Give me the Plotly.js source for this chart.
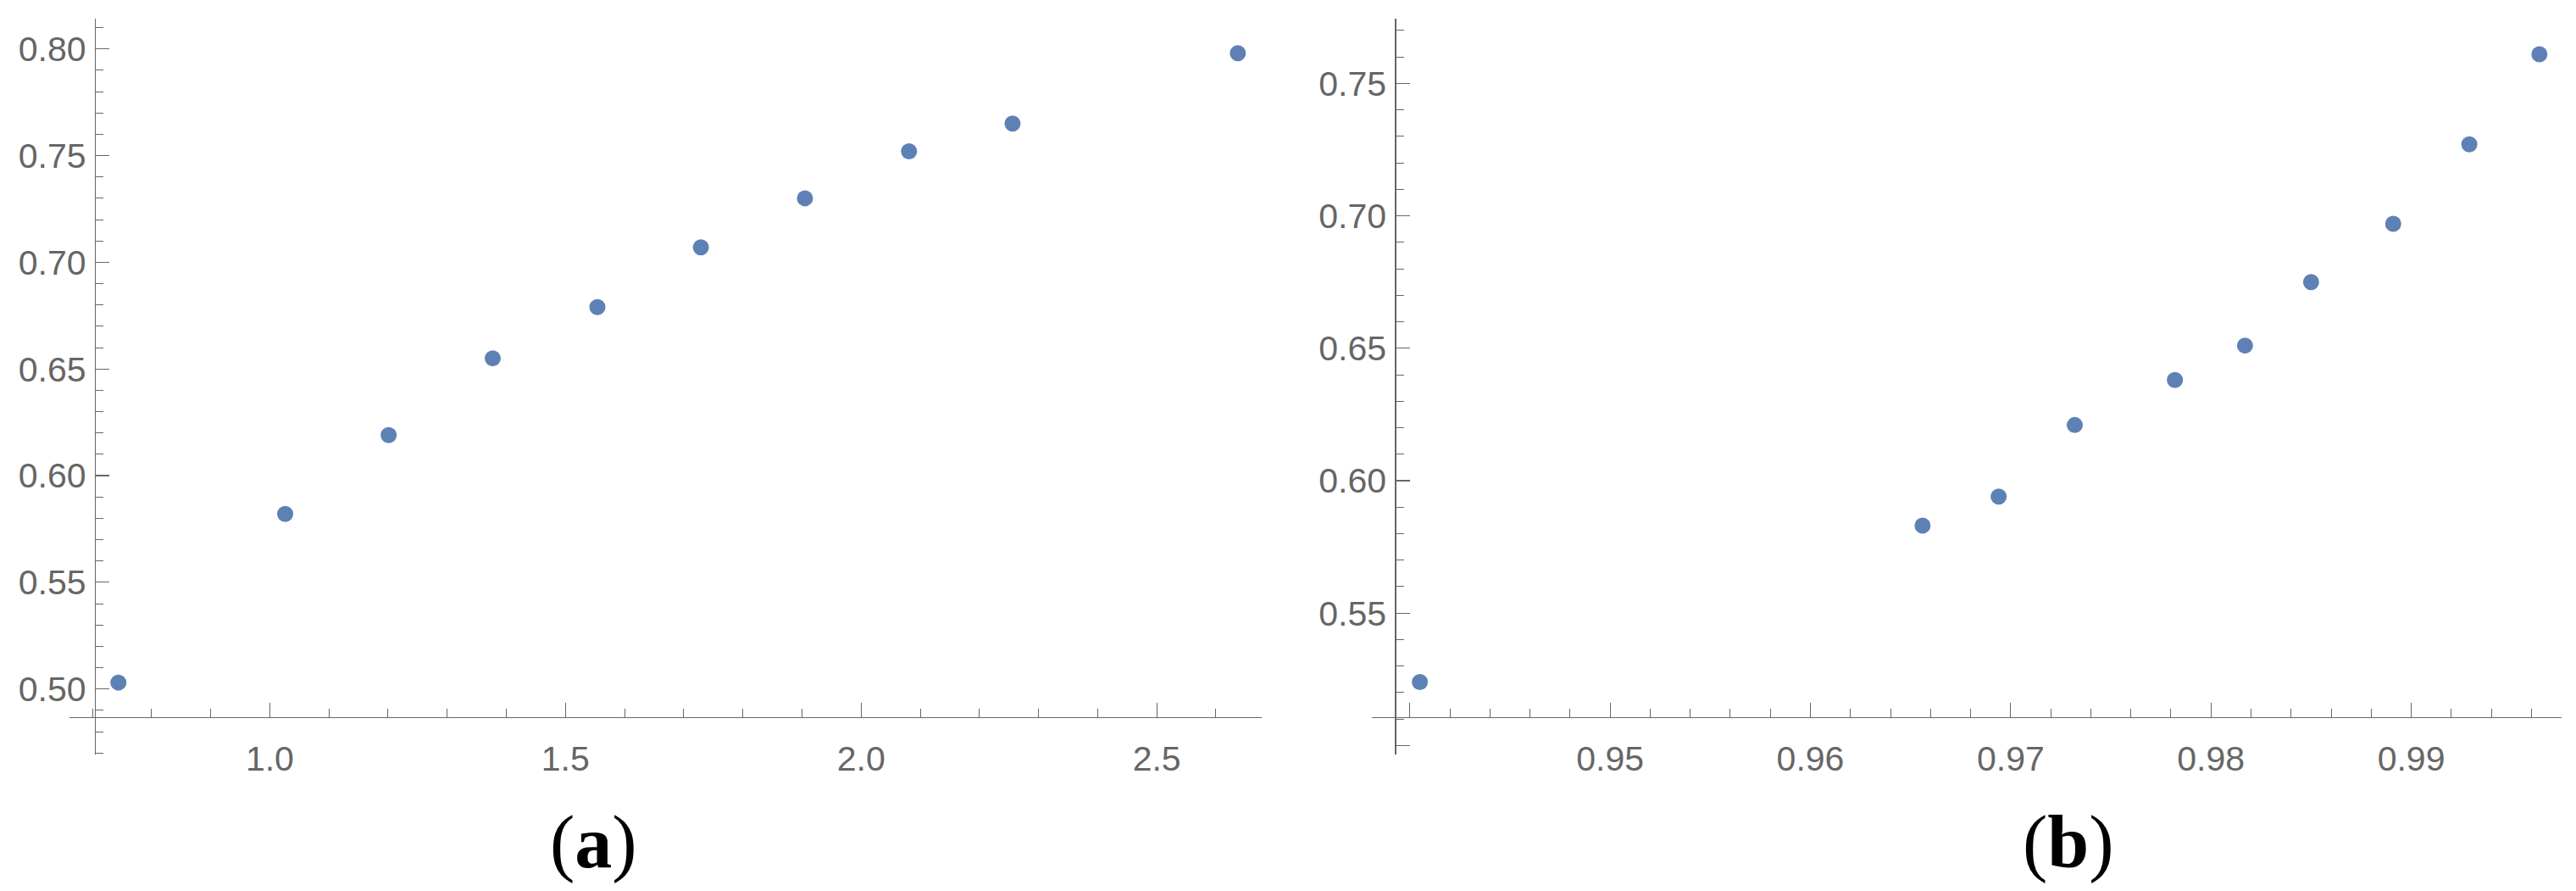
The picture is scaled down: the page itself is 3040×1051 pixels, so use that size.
<!DOCTYPE html>
<html>
<head>
<meta charset="utf-8">
<script src="https://cdn.plot.ly/plotly-3.0.1.min.js"></script>
<style>
  html, body { margin: 0; padding: 0; background: #fff; }
  #plot { width: 3040px; height: 1051px; }
</style>
</head>
<body>
<div id="plot"></div>
<script>
// Panel (a) data
const xA = [0.744, 1.026, 1.201, 1.377, 1.554, 1.729, 1.905, 2.081, 2.256, 2.637];
const yA = [0.503, 0.582, 0.619, 0.655, 0.679, 0.707, 0.730, 0.752, 0.765, 0.798];

// Panel (b) data
const xB = [0.9405, 0.9656, 0.9694, 0.9732, 0.9782, 0.9817, 0.9850, 0.9891, 0.9929, 0.9964];
const yB = [0.524, 0.583, 0.594, 0.621, 0.638, 0.651, 0.675, 0.697, 0.727, 0.761];

// Tick labels
const xTicksA = [1.0, 1.5, 2.0, 2.5];
const xLabelsA = ["1.0", "1.5", "2.0", "2.5"];
const yTicksA = [0.50, 0.55, 0.60, 0.65, 0.70, 0.75, 0.80];
const yLabelsA = ["0.50", "0.55", "0.60", "0.65", "0.70", "0.75", "0.80"];
const xTicksB = [0.94, 0.95, 0.96, 0.97, 0.98, 0.99];
const xLabelsB = ["", "0.95", "0.96", "0.97", "0.98", "0.99"];
const yTicksB = [0.50, 0.55, 0.60, 0.65, 0.70, 0.75];
const yLabelsB = ["", "0.55", "0.60", "0.65", "0.70", "0.75"];

const panelLabels = ["a", "b"];

// Plot ranges and where the axes cross (Mathematica style)
const xRangeA = [0.661, 2.677], yRangeA = [0.4694, 0.8144], originA = [0.704, 0.4868];
const xRangeB = [0.9381, 0.9975], yRangeB = [0.4967, 0.7746], originB = [0.93926, 0.5107];

const W = 3040, H = 1051;
const xDomA = [81.8 / W, 1488.7 / W];
const xDomB = [1618.9 / W, 3022.8 / W];
const yDom = [1 - 889.7 / H, 1 - 21.5 / H];

const grey = "#666666";
const dotColor = "#5E81B5";
const tickFont = { family: "Liberation Sans, Arial, sans-serif", size: 41, color: grey };
const captionFont = { family: "Liberation Serif, Times New Roman, serif", size: 88, color: "#000" };

// paper position of a value inside a domain
const frac = (v, range, dom) => dom[0] + (v - range[0]) / (range[1] - range[0]) * (dom[1] - dom[0]);

function xAxis(range, dom, vals, text, minorStep, yRange, yOrigin) {
    return {
        domain: dom, range: range, anchor: "free",
        position: frac(yOrigin, yRange, yDom),
        tickmode: "array", tickvals: vals, ticktext: text,
        ticks: "inside", ticklen: 17, tickwidth: 1.2, tickcolor: grey,
        minor: { tickmode: "linear", tick0: 0, dtick: minorStep, ticks: "inside", ticklen: 10, tickwidth: 1, tickcolor: grey },
        showline: true, linecolor: grey, linewidth: 1.4,
        showgrid: false, zeroline: false, tickfont: tickFont, ticklabelstandoff: 12
    };
}

function yAxis(range, vals, text, xRange, xDom, xOrigin) {
    return {
        domain: yDom, range: range, anchor: "free",
        position: frac(xOrigin, xRange, xDom),
        tickmode: "array", tickvals: vals, ticktext: text,
        ticks: "inside", ticklen: 16, tickwidth: 1.2, tickcolor: grey,
        minor: { tickmode: "linear", tick0: 0, dtick: 0.01, ticks: "inside", ticklen: 9, tickwidth: 1, tickcolor: grey },
        showline: true, linecolor: grey, linewidth: 1.4,
        showgrid: false, zeroline: false, tickfont: tickFont, ticklabelstandoff: 2
    };
}

const traceA = { x: xA, y: yA, xaxis: "x", yaxis: "y", mode: "markers", type: "scatter",
    marker: { color: dotColor, size: 19 }, cliponaxis: false };
const traceB = { x: xB, y: yB, xaxis: "x2", yaxis: "y2", mode: "markers", type: "scatter",
    marker: { color: dotColor, size: 19 }, cliponaxis: false };

const layout = {
    width: W, height: H,
    margin: { l: 0, r: 0, t: 0, b: 0 },
    paper_bgcolor: "#ffffff", plot_bgcolor: "#ffffff",
    showlegend: false, hovermode: false,
    xaxis: xAxis(xRangeA, xDomA, xTicksA, xLabelsA, 0.1, yRangeA, originA[1]),
    yaxis: yAxis(yRangeA, yTicksA, yLabelsA, xRangeA, xDomA, originA[0]),
    xaxis2: xAxis(xRangeB, xDomB, xTicksB, xLabelsB, 0.002, yRangeB, originB[1]),
    yaxis2: yAxis(yRangeB, yTicksB, yLabelsB, xRangeB, xDomB, originB[0]),
    annotations: [
        { text: "(<b>" + panelLabels[0] + "</b>)", xref: "paper", yref: "paper", x: 700 / W, y: 1 - 993 / H,
          xanchor: "center", yanchor: "middle", showarrow: false, font: captionFont },
        { text: "(<b>" + panelLabels[1] + "</b>)", xref: "paper", yref: "paper", x: 2441 / W, y: 1 - 993 / H,
          xanchor: "center", yanchor: "middle", showarrow: false, font: captionFont }
    ]
};

Plotly.newPlot("plot", [traceA, traceB], layout, { staticPlot: true, displayModeBar: false });
</script>
</body>
</html>
